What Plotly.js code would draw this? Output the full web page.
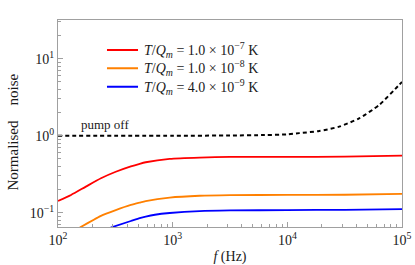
<!DOCTYPE html>
<html>
<head>
<meta charset="utf-8">
<script src="https://cdn.plot.ly/plotly-3.0.1.min.js"></script>
<style>html,body{margin:0;padding:0;background:#fff;}#chart{width:415px;height:265px;}</style>
</head>
<body>
<div id="chart"></div>
<script>
// Data (frequencies in Hz, normalised noise)
var fRed    = [100, 130, 175, 237, 319, 432, 516, 582, 942, 1718, 3162, 10000, 31623, 100000];
var red     = [0.142, 0.17, 0.218, 0.28, 0.34, 0.40, 0.432, 0.452, 0.50, 0.52, 0.53, 0.53, 0.535, 0.55];
var fOrange = [155, 237, 319, 432, 516, 582, 942, 1718, 3162, 10000, 31623, 100000];
var orange  = [0.064, 0.091, 0.108, 0.126, 0.135, 0.141, 0.157, 0.166, 0.169, 0.17, 0.171, 0.175];
var fBlue   = [288, 432, 516, 582, 700, 942, 1718, 3162, 10000, 31623, 100000];
var blue    = [0.064, 0.078, 0.085, 0.089, 0.094, 0.099, 0.105, 0.107, 0.108, 0.109, 0.111];
var fPump   = [100, 1000, 3162, 6310, 10000, 12706, 18967, 28314, 42267, 63096, 94189, 100000];
var pump    = [1.0, 1.0, 1.005, 1.02, 1.04, 1.08, 1.15, 1.31, 1.68, 2.5, 4.55, 5.0];
var seriesNames = [
  "<i>T</i>/<i>Q</i><sub><i>m</i></sub> = 1.0 × 10<sup>−7</sup> K",
  "<i>T</i>/<i>Q</i><sub><i>m</i></sub> = 1.0 × 10<sup>−8</sup> K",
  "<i>T</i>/<i>Q</i><sub><i>m</i></sub> = 4.0 × 10<sup>−9</sup> K"
];
var seriesColors = ["#ff0000", "#ff8000", "#0000ff"];
var xTickVals = [100, 1000, 10000, 100000];
var xTickText = ["10<sup>2</sup>", "10<sup>3</sup>", "10<sup>4</sup>", "10<sup>5</sup>"];
var yTickVals = [0.1, 1, 10];
var yTickText = ["10<sup>−1</sup>", "10<sup>0</sup>", "10<sup>1</sup>"];
var xMinor = [200,300,400,500,600,700,800,900,2000,3000,4000,5000,6000,7000,8000,9000,
              20000,30000,40000,50000,60000,70000,80000,90000];
var yMinor = [0.07,0.08,0.09,0.2,0.3,0.4,0.5,0.6,0.7,0.8,0.9,2,3,4,5,6,7,8,9,20,30];

var serif = "Liberation Serif, Times New Roman, serif";
var xs = [fRed, fOrange, fBlue], ys = [red, orange, blue];
var traces = [];
for (var i = 0; i < 3; i++) {
  traces.push({x: xs[i], y: ys[i], name: seriesNames[i], showlegend: false, mode: "lines",
               line: {color: seriesColors[i], width: 1.8, shape: "spline", smoothing: 0.6}});
}
traces.push({x: fPump, y: pump, name: "pump off", showlegend: false, mode: "lines",
             line: {color: "#000", width: 2, dash: "4px,3px", shape: "spline", smoothing: 0.6}});

// manual legend (rows in paper coordinates)
var legendRowsY = [0.855, 0.767, 0.678];
var shapes = [], annotations = [];
for (var j = 0; j < 3; j++) {
  shapes.push({type: "line", xref: "paper", yref: "paper", x0: 0.1424, x1: 0.2326,
               y0: legendRowsY[j], y1: legendRowsY[j], line: {color: seriesColors[j], width: 2}});
  annotations.push({xref: "paper", yref: "paper", x: 0.244, y: legendRowsY[j], xanchor: "left", yanchor: "middle",
                    showarrow: false, text: seriesNames[j], font: {family: serif, size: 14, color: "#1a1a1a"}});
}
annotations.push({x: 2.183, y: 0.15, xref: "x", yref: "y", xanchor: "left", yanchor: "middle", showarrow: false,
                  text: "pump off", font: {family: serif, size: 13, color: "#1a1a1a"}});
annotations.push({xref: "paper", yref: "paper", x: -0.131, y: 0.461, xanchor: "center", yanchor: "middle",
                  textangle: -90, showarrow: false,
                  text: "Normalised\u00a0\u00a0\u00a0\u00a0noise", font: {family: serif, size: 15, color: "#1a1a1a"}});

var axisCommon = {
  type: "log", showgrid: false, zeroline: false,
  showline: true, mirror: true, linecolor: "#a0a0a0", linewidth: 1,
  ticks: "inside", ticklen: 5, tickwidth: 1, tickcolor: "#a0a0a0",
  tickmode: "array", tickfont: {family: serif, size: 14, color: "#1a1a1a"}
};

var layout = {
  width: 415, height: 265,
  margin: {l: 58, r: 13, t: 20, b: 38},
  paper_bgcolor: "#fff", plot_bgcolor: "#fff",
  font: {family: serif, color: "#1a1a1a"},
  showlegend: false,
  xaxis: Object.assign({}, axisCommon, {
    range: [2, 5], tickvals: xTickVals, ticktext: xTickText,
    minor: {tickmode: "array", tickvals: xMinor, ticks: "inside", ticklen: 3, tickcolor: "#a0a0a0", showgrid: false},
    title: {text: "<i>f</i> (Hz)", font: {family: serif, size: 14, color: "#1a1a1a"}, standoff: 6}
  }),
  yaxis: Object.assign({}, axisCommon, {
    range: [-1.186, 1.503], tickvals: yTickVals, ticktext: yTickText,
    minor: {tickmode: "array", tickvals: yMinor, ticks: "inside", ticklen: 3, tickcolor: "#a0a0a0", showgrid: false}
  }),
  shapes: shapes,
  annotations: annotations
};

Plotly.newPlot("chart", traces, layout, {displayModeBar: false, staticPlot: true});
</script>
</body>
</html>
